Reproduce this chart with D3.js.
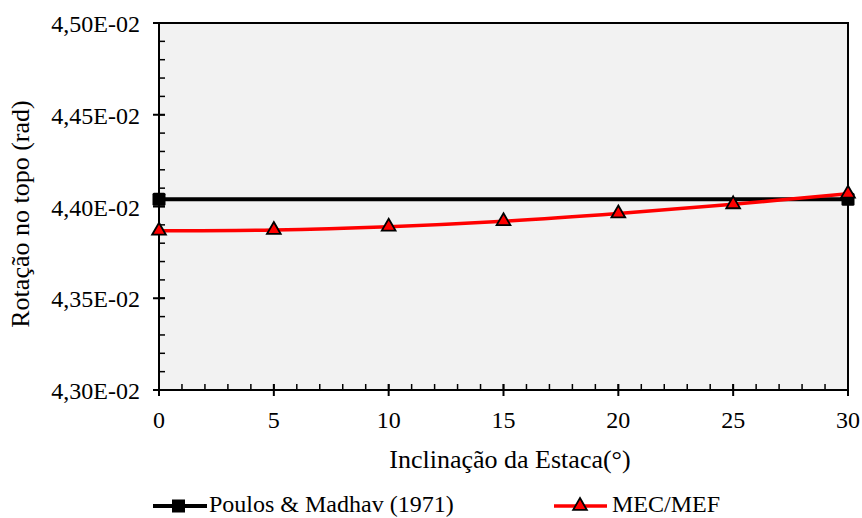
<!DOCTYPE html>
<html>
<head>
<meta charset="utf-8">
<script src="https://cdn.jsdelivr.net/npm/d3@7"></script>
<style>
  body { margin: 0; background: #fff; }
  svg text { font-family: "Times New Roman", Tinos, "Liberation Serif", "DejaVu Serif", "Noto Serif", serif; }
</style>
</head>
<body>
<svg id="chart" width="862" height="518"></svg>
<script>
// Inclination of the pile (degrees)
const inclinacao = [0, 5, 10, 15, 20, 25, 30];
// Top rotation (rad) — analytical reference (Poulos & Madhav, 1971)
const poulosX = [0, 30];
const poulosY = [0.04404, 0.04404];
// Top rotation (rad) — coupled BEM/FEM model
const mecMefY = [0.043868, 0.043872, 0.043890, 0.043920, 0.043962, 0.044012, 0.044070];

const yTicks = [0.0430, 0.0435, 0.0440, 0.0445, 0.0450];
const xTicks = [0, 5, 10, 15, 20, 25, 30];

const svg = d3.select("#chart");
const m = { left: 159, right: 848, top: 23, bottom: 390 };

const x = d3.scaleLinear().domain([0, 30]).range([m.left, m.right]);
const y = d3.scaleLinear().domain([0.0430, 0.0450]).range([m.bottom, m.top]);

// plot background + frame
svg.append("rect")
  .attr("x", m.left).attr("y", m.top)
  .attr("width", m.right - m.left).attr("height", m.bottom - m.top)
  .attr("fill", "#f2f2f2").attr("stroke", "#000").attr("stroke-width", 2);

const fmt = v => (v * 100).toFixed(2).replace(".", ",") + "E-02";

// y axis: major ticks crossing the axis, minor ticks inside
const yMinor = d3.range(0, 21).map(i => 0.0430 + i * 0.0001);
svg.append("g").selectAll("line").data(yMinor).join("line")
  .attr("x1", m.left).attr("x2", m.left + 6)
  .attr("y1", d => y(d)).attr("y2", d => y(d))
  .attr("stroke", "#000").attr("stroke-width", 1.5);
svg.append("g").selectAll("line").data(yTicks).join("line")
  .attr("x1", m.left - 6).attr("x2", m.left + 6)
  .attr("y1", d => y(d)).attr("y2", d => y(d))
  .attr("stroke", "#000").attr("stroke-width", 2);
svg.append("g").selectAll("text").data(yTicks).join("text")
  .attr("x", 140).attr("y", d => y(d) + 9)
  .attr("text-anchor", "end").attr("font-size", 24)
  .text(fmt);

// x axis: major ticks crossing, minor every 1 degree inside
const xMinor = d3.range(0, 31);
svg.append("g").selectAll("line").data(xMinor).join("line")
  .attr("x1", d => x(d)).attr("x2", d => x(d))
  .attr("y1", m.bottom).attr("y2", m.bottom - 6)
  .attr("stroke", "#000").attr("stroke-width", 1.5);
svg.append("g").selectAll("line").data(xTicks).join("line")
  .attr("x1", d => x(d)).attr("x2", d => x(d))
  .attr("y1", m.bottom + 6).attr("y2", m.bottom - 6)
  .attr("stroke", "#000").attr("stroke-width", 2);
svg.append("g").selectAll("text").data(xTicks).join("text")
  .attr("x", d => x(d)).attr("y", 428)
  .attr("text-anchor", "middle").attr("font-size", 24)
  .text(d => d);

// axis titles
svg.append("text")
  .attr("x", 510).attr("y", 468)
  .attr("text-anchor", "middle").attr("font-size", 26)
  .text("Inclinação da Estaca(°)");
svg.append("text")
  .attr("transform", "translate(29,214) rotate(-90)")
  .attr("text-anchor", "middle").attr("font-size", 26)
  .text("Rotação no topo (rad)");

// Poulos & Madhav series
const poulos = poulosX.map((d, i) => [d, poulosY[i]]);
svg.append("path").datum(poulos)
  .attr("d", d3.line().x(d => x(d[0])).y(d => y(d[1])))
  .attr("fill", "none").attr("stroke", "#000").attr("stroke-width", 4);
const sq = 13;
svg.append("g").selectAll("rect").data(poulos).join("rect")
  .attr("x", d => x(d[0]) - sq / 2).attr("y", d => y(d[1]) - sq / 2)
  .attr("width", sq).attr("height", sq).attr("rx", 1.5)
  .attr("fill", "#000");

// MEC/MEF series (smoothed)
const mec = inclinacao.map((d, i) => [d, mecMefY[i]]);
svg.append("path").datum(mec)
  .attr("d", d3.line().x(d => x(d[0])).y(d => y(d[1])).curve(d3.curveCatmullRom))
  .attr("fill", "none").attr("stroke", "#ff0000").attr("stroke-width", 3.5);
const tri = d3.symbol().type(d3.symbolTriangle).size(82);
svg.append("g").selectAll("path").data(mec).join("path")
  .attr("transform", d => `translate(${x(d[0])},${y(d[1])})`)
  .attr("d", tri)
  .attr("fill", "#ff0000").attr("stroke", "#000").attr("stroke-width", 1.8);

// legend
const lg = svg.append("g");
lg.append("line").attr("x1", 153).attr("x2", 207).attr("y1", 506).attr("y2", 506)
  .attr("stroke", "#000").attr("stroke-width", 4);
lg.append("rect").attr("x", 178.5 - 6.5).attr("y", 506 - 6.5).attr("width", 13).attr("height", 13)
  .attr("fill", "#000");
lg.append("text").attr("x", 209).attr("y", 512).attr("font-size", 24)
  .text("Poulos & Madhav (1971)");
lg.append("line").attr("x1", 554).attr("x2", 607).attr("y1", 506).attr("y2", 506)
  .attr("stroke", "#ff0000").attr("stroke-width", 3.5);
lg.append("path").attr("transform", "translate(580,506)").attr("d", tri)
  .attr("fill", "#ff0000").attr("stroke", "#000").attr("stroke-width", 1.8);
lg.append("text").attr("x", 612).attr("y", 512).attr("font-size", 24)
  .text("MEC/MEF");
</script>
</body>
</html>
